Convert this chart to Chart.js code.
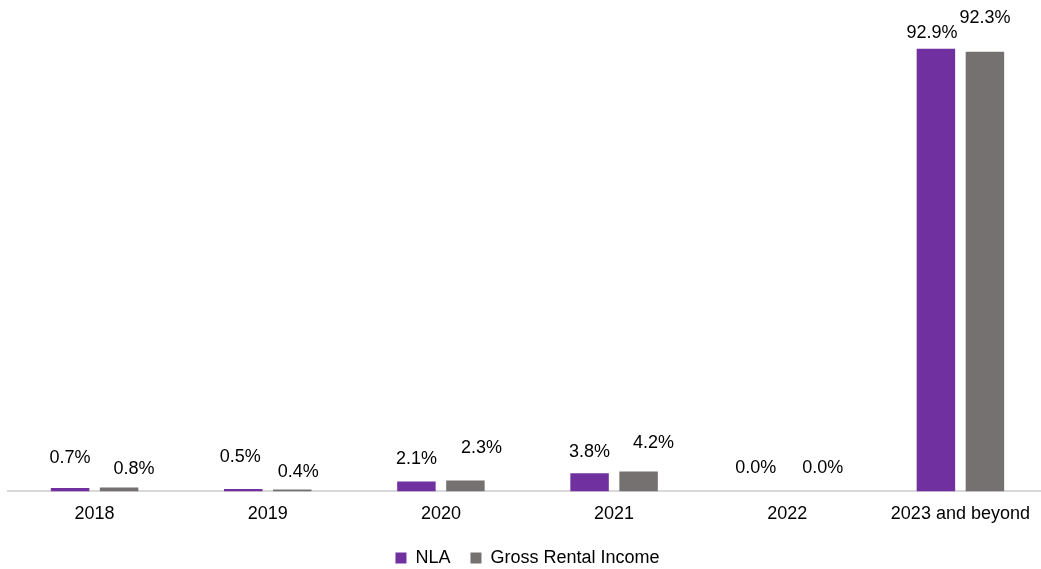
<!DOCTYPE html>
<html>
<head>
<meta charset="utf-8">
<script src="https://cdn.jsdelivr.net/npm/chart.js@4.4.1/dist/chart.umd.min.js"></script>
<style>
  html, body { margin: 0; padding: 0; background: #fff; overflow: hidden; }
  #wrap { width: 1047px; height: 577px; position: relative; }
</style>
</head>
<body>
<div id="wrap"><canvas id="c"></canvas></div>
<script>
const categories = ['2018', '2019', '2020', '2021', '2022', '2023 and beyond'];
const nlaValues = [0.7, 0.5, 2.1, 3.8, 0.0, 92.9];
const griValues = [0.8, 0.4, 2.3, 4.2, 0.0, 92.3];
const seriesNames = ['NLA', 'Gross Rental Income'];

// label offsets (dx, dy) relative to bar top, per dataset / point
const labelOffsets = [
  [[0,-30],[-3,-32],[0,-22],[0,-21],[-7,-23],[-4,-16]],
  [[15,-19],[6,-17],[16,-32],[15,-28],[11,-23],[0,-34]]
];

const valueLabels = {
  id: 'valueLabels',
  afterDatasetsDraw(chart) {
    const ctx = chart.ctx;
    ctx.save();
    ctx.font = '18px "Liberation Sans", Arial, sans-serif';
    ctx.fillStyle = '#000000';
    ctx.textAlign = 'center';
    ctx.textBaseline = 'middle';
    chart.data.datasets.forEach((ds, di) => {
      const meta = chart.getDatasetMeta(di);
      meta.data.forEach((el, i) => {
        const off = labelOffsets[di][i];
        ctx.fillText(ds.data[i].toFixed(1) + '%', el.x + off[0], el.y + off[1]);
      });
    });
    ctx.restore();
  }
};

new Chart(document.getElementById('c'), {
  type: 'bar',
  data: {
    labels: categories,
    datasets: [
      { label: seriesNames[0], data: nlaValues, backgroundColor: '#7030A0',
        categoryPercentage: 0.566, barPercentage: 0.785 },
      { label: seriesNames[1], data: griValues, backgroundColor: '#767171',
        categoryPercentage: 0.566, barPercentage: 0.785 }
    ]
  },
  options: {
    responsive: true,
    maintainAspectRatio: false,
    animation: false,
    layout: { padding: { left: 8, right: 0, top: 15, bottom: 0 } },
    plugins: {
      legend: {
        position: 'bottom',
        labels: {
          boxWidth: 11, boxHeight: 11, padding: 20,
          color: '#000000',
          font: { family: '"Liberation Sans", Arial, sans-serif', size: 18 }
        }
      },
      tooltip: { enabled: false }
    },
    scales: {
      x: {
        grid: { display: false },
        border: { display: true, color: '#d9d9d9', width: 2 },
        ticks: {
          padding: 4, color: '#000000',
          font: { family: '"Liberation Sans", Arial, sans-serif', size: 18 }
        }
      },
      y: {
        display: false,
        min: 0, max: 100
      }
    }
  },
  plugins: [valueLabels]
});
</script>
</body>
</html>
